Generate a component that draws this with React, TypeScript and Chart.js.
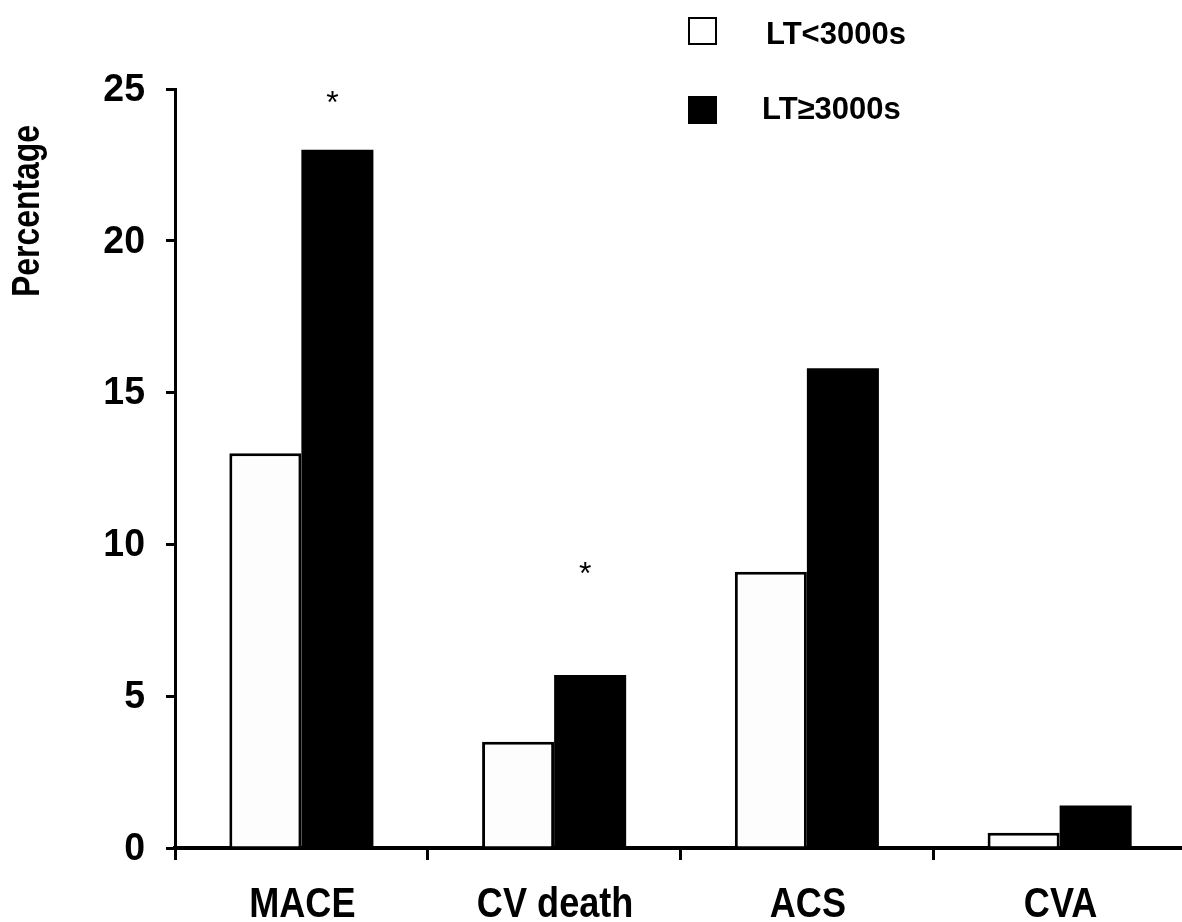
import React, { useEffect, useRef } from 'react';
import { Chart, registerables } from 'chart.js';

Chart.register(...registerables);

const categories = ['MACE', 'CV death', 'ACS', 'CVA'];
const seriesNames = ['LT<3000s', 'LT≥3000s'];
const ltBelow = [13.0, 3.5, 9.1, 0.5];
const ltAbove = [23.0, 5.7, 15.8, 1.4];
const yTickValues = [0, 5, 10, 15, 20, 25];
const significance = ['*', '*', '', ''];
const asteriskLevels: (number | null)[] = [24.8, 9.3, null, null];
const yTitle = 'Percentage';

const SANS = '"Liberation Sans", Arial, sans-serif';

function scaledText(
  ctx: CanvasRenderingContext2D,
  text: string,
  x: number,
  y: number,
  align: CanvasTextAlign,
  sx: number,
  rotate = 0
) {
  ctx.save();
  ctx.translate(x, y);
  if (rotate) ctx.rotate(rotate);
  ctx.scale(sx, 1);
  ctx.textAlign = align;
  ctx.fillText(text, 0, 0);
  ctx.restore();
}

const overlayPlugin = {
  id: 'overlay',
  afterDraw(chart: any) {
    const ctx = chart.ctx as CanvasRenderingContext2D;
    const xs = chart.scales.x;
    const ys = chart.scales.y;
    const meta = chart.getDatasetMeta(1);
    ctx.save();
    ctx.fillStyle = '#000';

    // y tick labels
    ctx.font = `bold 39px ${SANS}`;
    ctx.textBaseline = 'middle';
    ys.ticks.forEach((t: any) => {
      const py = ys.getPixelForValue(t.value);
      scaledText(ctx, String(t.value), chart.chartArea.left - 30, py + 1, 'right', 0.96);
    });

    // x category labels (condensed bold)
    ctx.font = `bold 43px ${SANS}`;
    ctx.textBaseline = 'alphabetic';
    categories.forEach((c, i) => {
      const px = xs.getPixelForValue(i);
      scaledText(ctx, c, px + 1, chart.chartArea.bottom + 69, 'center', 0.84);
    });

    // significance marks
    ctx.font = `32px ${SANS}`;
    ctx.textAlign = 'center';
    ctx.textBaseline = 'alphabetic';
    significance.forEach((s, i) => {
      const lvl = asteriskLevels[i];
      if (!s || lvl == null) return;
      const bar = meta.data[i];
      const px = bar.x - 5;
      const py = ys.getPixelForValue(lvl);
      ctx.fillText(s, px, py + 18);
    });

    // legend
    ctx.lineWidth = 2;
    ctx.strokeStyle = '#000';
    ctx.fillStyle = '#fff';
    ctx.fillRect(689, 18, 27, 26);
    ctx.strokeRect(689, 18, 27, 26);
    ctx.fillStyle = '#000';
    ctx.fillRect(688, 96, 29, 28);
    ctx.font = `bold 31px ${SANS}`;
    ctx.textAlign = 'left';
    ctx.textBaseline = 'middle';
    ctx.fillText(seriesNames[0], 766, 35);
    ctx.fillText(seriesNames[1], 762, 110);

    // y title
    ctx.font = `bold 38px ${SANS}`;
    ctx.textBaseline = 'middle';
    scaledText(ctx, yTitle, 29, 211, 'center', 0.84, -Math.PI / 2);
    ctx.restore();
  },
};

export default function App() {
  const ref = useRef<HTMLCanvasElement>(null);
  useEffect(() => {
    const canvas = ref.current!;
    const chart = new Chart(canvas, {
      type: 'bar',
      data: {
        labels: categories,
        datasets: [
          {
            label: seriesNames[0],
            data: ltBelow,
            backgroundColor: '#fdfdfd',
            borderColor: '#000',
            borderWidth: 3,
            categoryPercentage: 0.57,
            barPercentage: 1,
          },
          {
            label: seriesNames[1],
            data: ltAbove,
            backgroundColor: '#000',
            borderColor: '#000',
            borderWidth: 0,
            categoryPercentage: 0.57,
            barPercentage: 1,
          },
        ],
      },
      options: {
        responsive: false,
        animation: false,
        devicePixelRatio: 1,
        layout: { padding: { top: 89, left: 0, right: 0, bottom: 0 } },
        plugins: { legend: { display: false }, tooltip: { enabled: false } },
        scales: {
          x: {
            grid: {
              offset: true,
              display: true,
              drawOnChartArea: false,
              drawTicks: true,
              tickLength: 12,
              color: '#000',
              lineWidth: 3,
            },
            border: { display: true, color: '#000', width: 4 },
            ticks: { display: false },
            afterFit: (s: any) => {
              s.height = 74;
            },
          },
          y: {
            min: 0,
            max: 25,
            afterBuildTicks: (s: any) => {
              s.ticks = yTickValues.map((v) => ({ value: v }));
            },
            grid: {
              display: true,
              drawOnChartArea: false,
              drawTicks: true,
              tickLength: 9,
              color: '#000',
              lineWidth: 3,
            },
            border: { display: true, color: '#000', width: 3 },
            ticks: { display: false },
            afterFit: (s: any) => {
              s.width = 175;
            },
          },
        },
      },
      plugins: [overlayPlugin],
    });
    return () => chart.destroy();
  }, []);
  return (
    <div style={{ position: 'absolute', left: 0, top: 0, width: 1182, height: 922, overflow: 'hidden', background: '#fff' }}>
      <canvas ref={ref} width={1186} height={922} style={{ width: 1186, height: 922, display: 'block' }} />
    </div>
  );
}
